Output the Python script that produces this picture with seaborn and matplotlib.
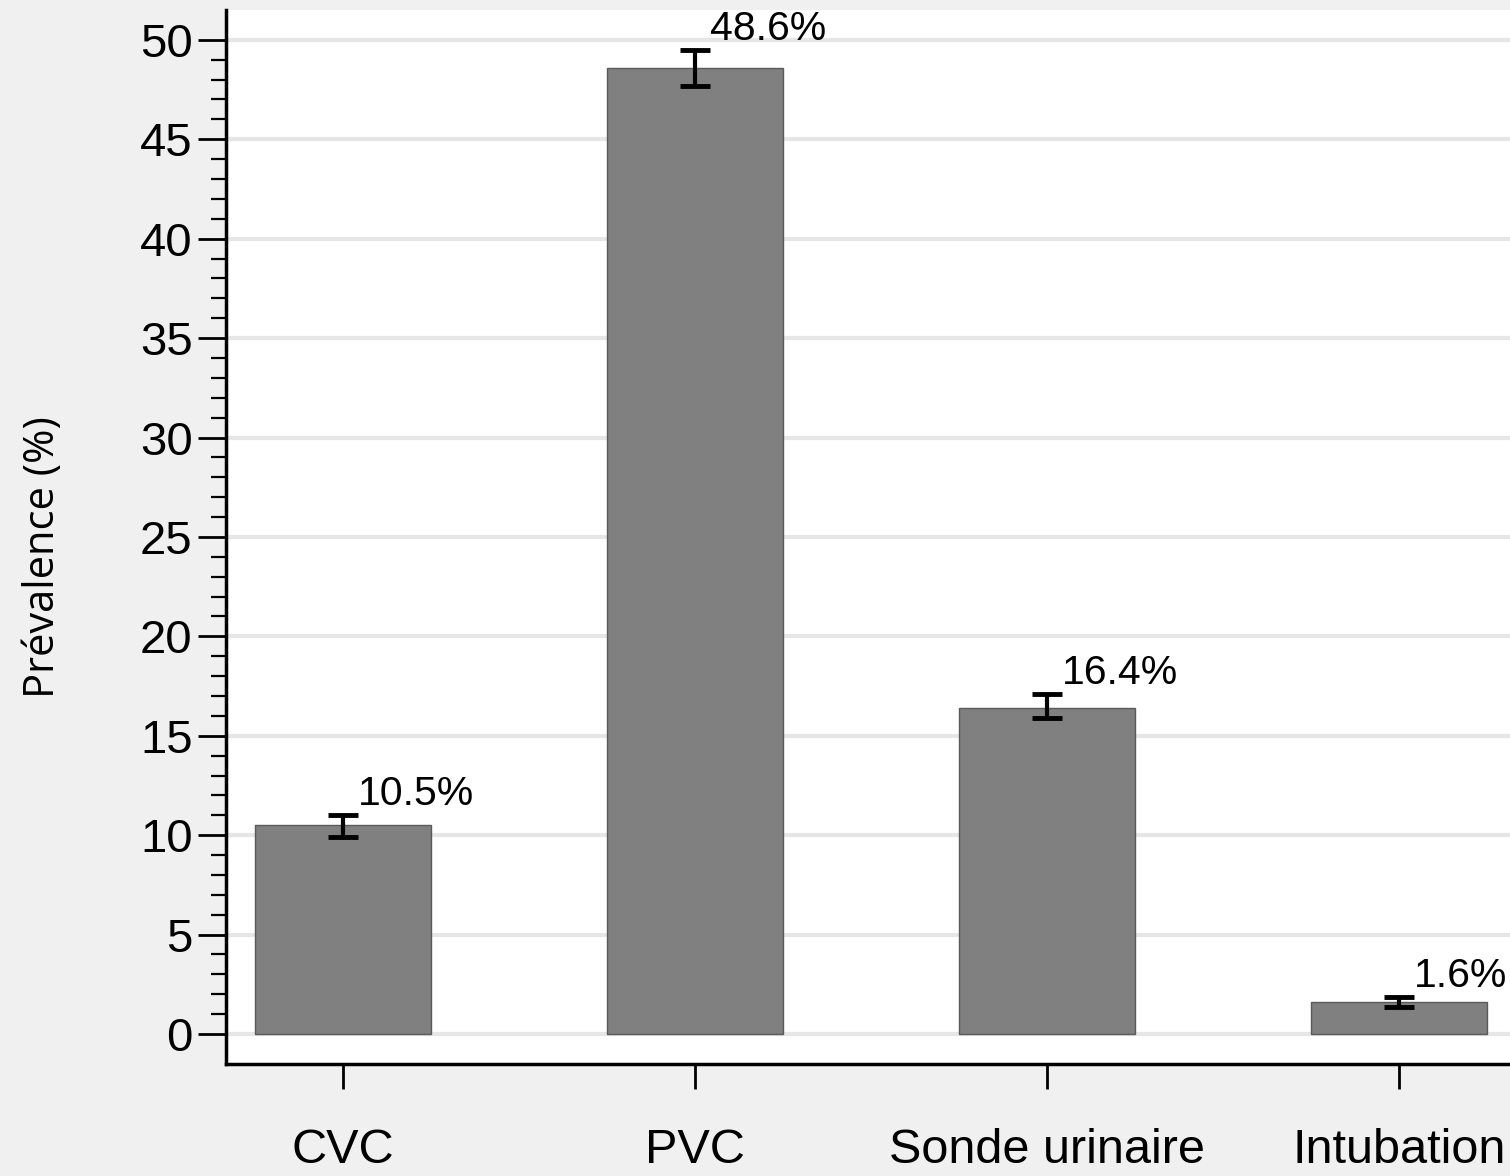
import numpy as np
import pandas as pd
import matplotlib
matplotlib.use('Agg')
import matplotlib.pyplot as plt
from matplotlib.ticker import MultipleLocator, FixedLocator
import seaborn as sns

# data
categories = ['CVC', 'PVC', 'Sonde urinaire', 'Intubation']
prevalence = [10.5, 48.6, 16.4, 1.6]
ci_low = [9.9, 47.7, 15.9, 1.36]
ci_high = [11.0, 49.5, 17.1, 1.86]
value_labels = ['10.5%', '48.6%', '16.4%', '1.6%']

df = pd.DataFrame({'cat': categories, 'prev': prevalence})

sns.set_style('white')
plt.rcParams['font.family'] = ['Liberation Sans', 'DejaVu Sans']
plt.rcParams['text.color'] = 'black'
plt.rcParams['xtick.color'] = 'black'
plt.rcParams['ytick.color'] = 'black'
plt.rcParams['axes.labelcolor'] = 'black'

fig = plt.figure(figsize=(15.1, 11.76), dpi=100, facecolor='#f0f0f0')
ax = fig.add_axes([0.1497, 0.0952, 0.8503, 0.8963])
ax.set_facecolor('white')

sns.barplot(data=df, x='cat', y='prev', color='#808080', saturation=1,
            width=0.5, edgecolor='#5a5a5a', linewidth=1, errorbar=None, ax=ax, zorder=3)

# confidence intervals
x = np.arange(len(categories))
prev = np.array(prevalence)
yerr = [prev - np.array(ci_low), np.array(ci_high) - prev]
ax.errorbar(x, prev, yerr=yerr, fmt='none', ecolor='black', elinewidth=3,
            capsize=11, capthick=3.5, zorder=4)

# value labels
for i, lab in enumerate(value_labels):
    ax.text(x[i] + 0.043, ci_high[i] + 0.1, lab, fontsize=29.5, ha='left', va='bottom',
            color='black', zorder=5)

ax.set_xlim(-0.332, 3.315)
ax.set_ylim(-1.51, 51.5)
ax.yaxis.set_major_locator(MultipleLocator(5))
ax.yaxis.set_minor_locator(FixedLocator([v for v in range(0, 51) if v % 5]))
ax.grid(axis='y', which='major', color='#e6e6e6', linewidth=3, zorder=0)
ax.set_axisbelow(True)

for s in ['top', 'right']:
    ax.spines[s].set_visible(False)
for s in ['left', 'bottom']:
    ax.spines[s].set_color('black')
    ax.spines[s].set_linewidth(2.5)

ax.tick_params(axis='y', which='major', length=20, width=2, labelsize=34, pad=4, left=True)
ax.tick_params(axis='y', which='minor', length=11, width=1.6, left=True)
ax.tick_params(axis='x', which='major', length=18, width=2, labelsize=35, pad=28, bottom=True)

ax.set_xlabel('')
ax.set_ylabel('Prévalence (%)', fontsize=30, family=['Open Sans', 'DejaVu Sans'])
ax.yaxis.set_label_coords(-0.1265, 0.481)

fig.savefig('out.png', dpi=100, facecolor=fig.get_facecolor())
